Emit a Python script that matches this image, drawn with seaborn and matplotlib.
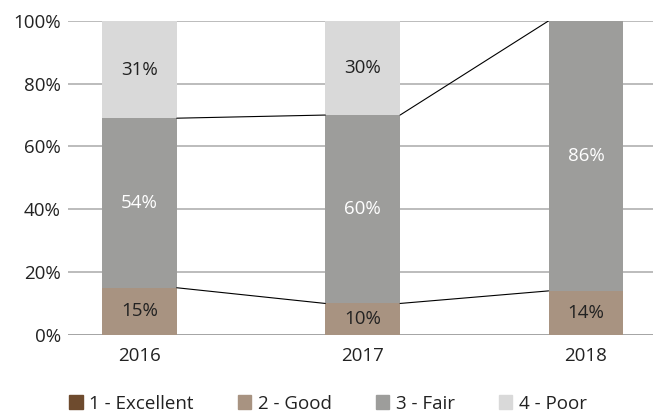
import numpy as np
import pandas as pd
import seaborn as sns
import matplotlib.pyplot as plt
from matplotlib.patches import Patch

years = ["2016", "2017", "2018"]
categories = ["1 - Excellent", "2 - Good", "3 - Fair", "4 - Poor"]
excellent = [0, 0, 0]
good = [15, 10, 14]
fair = [54, 60, 86]
poor = [31, 30, 0]
colors = ["#6e4b2e", "#a89381", "#9d9d9b", "#d9d9d9"]
label_colors = ["#222222", "#222222", "#ffffff", "#222222"]

sns.set_theme(style="white")
plt.rcParams['font.family'] = ['Open Sans', 'DejaVu Sans']

values = np.array([excellent, good, fair, poor], dtype=float)
cum = values.cumsum(axis=0)

fig, ax = plt.subplots(figsize=(6.53, 4.17), dpi=100)
fig.subplots_adjust(left=0.104, right=1.0, top=0.95, bottom=0.197)

for y in range(0, 101, 20):
    ax.axhline(y, color="#aaaaaa" if y else "#8c8c8c", lw=1.1, zorder=0)

width = 0.335
# draw from the top layer down so lower layers cover the upper ones
for i in range(len(categories) - 1, -1, -1):
    df = pd.DataFrame({"year": years, "value": cum[i]})
    sns.barplot(data=df, x="year", y="value", color=colors[i], width=width,
                saturation=1, linewidth=0, ax=ax, zorder=2)

# value labels
for i in range(len(categories)):
    for j in range(len(years)):
        v = values[i, j]
        if v <= 0:
            continue
        mid = cum[i, j] - v / 2
        ax.text(j, mid, f"{int(v)}%", ha="center", va="center",
                color=label_colors[i], fontsize=13.5, zorder=4)

# series lines between bars (Good and Fair tops)
for i in (1, 2):
    for j in range(len(years) - 1):
        ax.plot([j + width / 2, j + 1 - width / 2], [cum[i, j], cum[i, j + 1]],
                color="black", lw=0.8, zorder=3)

ax.set_xlim(-0.32, 2.3)
ax.set_ylim(0, 100)
ax.set_yticks(range(0, 101, 20))
ax.set_yticklabels([f"{t}%" for t in range(0, 101, 20)])
ax.set_xlabel("")
ax.set_ylabel("")
ax.tick_params(axis="both", labelsize=13.5, colors="#222222", length=0)
ax.tick_params(axis="x", pad=9)
ax.tick_params(axis="y", pad=5)
for s in ax.spines.values():
    s.set_visible(False)

handles = [Patch(color=c, label=l) for c, l in zip(colors, categories)]
fig.legend(handles=handles, loc="lower left", bbox_to_anchor=(0.08, -0.03),
           ncol=4, frameon=False, fontsize=13.5, handlelength=0.72,
           handleheight=0.72, handletextpad=0.35, columnspacing=2.35,
           labelcolor="#222222")

fig.savefig("out.png", dpi=100)
